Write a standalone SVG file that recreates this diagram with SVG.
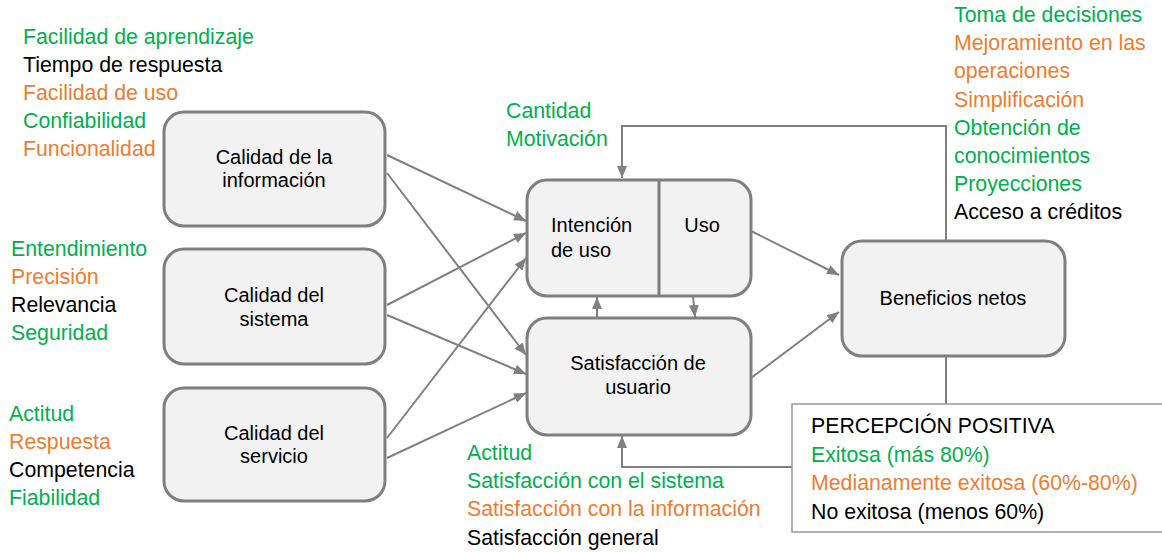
<svg xmlns="http://www.w3.org/2000/svg" width="1162" height="552" viewBox="0 0 1162 552">
<style>
.box{fill:#f2f2f2;stroke:#7f7f7f;stroke-width:3}
.bt{font-family:"Liberation Sans",Arial,sans-serif;font-size:20px;fill:#000}
.lt{font-family:"Liberation Sans",Arial,sans-serif;font-size:21.3px}
.g{fill:#00b050}.o{fill:#ed7d31}.k{fill:#000}
.c{fill:none;stroke:#808080;stroke-width:2}
.pb{fill:#fff;stroke:#999;stroke-width:1.5}
</style>
<defs>
<marker id="ar" viewBox="0 0 12 10" refX="12" refY="5" markerWidth="12" markerHeight="10" markerUnits="userSpaceOnUse" orient="auto">
<path d="M0,0 L12,5 L0,10 z" fill="#808080"/>
</marker>
</defs>
<rect width="1162" height="552" fill="#fff"/>

<g id="connectors">
<line class="c" x1="387" y1="155" x2="526" y2="221" marker-end="url(#ar)"/>
<line class="c" x1="387" y1="173" x2="526" y2="355" marker-end="url(#ar)"/>
<line class="c" x1="387" y1="305" x2="526" y2="233" marker-end="url(#ar)"/>
<line class="c" x1="387" y1="315" x2="526" y2="374" marker-end="url(#ar)"/>
<line class="c" x1="387" y1="438" x2="526" y2="258" marker-end="url(#ar)"/>
<line class="c" x1="387" y1="458" x2="526" y2="393" marker-end="url(#ar)"/>
<line class="c" x1="597" y1="318" x2="597" y2="297" marker-end="url(#ar)"/>
<line class="c" x1="693" y1="296" x2="695" y2="317" marker-end="url(#ar)"/>
<line class="c" x1="751" y1="231" x2="839" y2="275" marker-end="url(#ar)"/>
<line class="c" x1="751" y1="378" x2="839" y2="312" marker-end="url(#ar)"/>
<path class="c" d="M946,241 V126 H622 V178" marker-end="url(#ar)"/>
<line class="c" x1="946" y1="357" x2="946" y2="404"/>
<path class="c" d="M792,467 H622 V436" marker-end="url(#ar)"/>
</g>

<g id="n-info">
<rect class="box" x="164" y="112" width="221" height="114" rx="20"/>
<text class="bt" x="274" y="164" text-anchor="middle">Calidad de la</text>
<text class="bt" x="274" y="187" text-anchor="middle">información</text>
</g>
<g id="n-sistema">
<rect class="box" x="164" y="249" width="221" height="115" rx="20"/>
<text class="bt" x="274" y="302" text-anchor="middle">Calidad del</text>
<text class="bt" x="274" y="326" text-anchor="middle">sistema</text>
</g>
<g id="n-servicio">
<rect class="box" x="164" y="388" width="221" height="113" rx="20"/>
<text class="bt" x="274" y="440" text-anchor="middle">Calidad del</text>
<text class="bt" x="274" y="463" text-anchor="middle">servicio</text>
</g>
<g id="n-intencion-uso">
<rect class="box" x="527" y="180" width="224" height="116" rx="20"/>
<line x1="659" y1="180" x2="659" y2="296" stroke="#7f7f7f" stroke-width="3"/>
<text class="bt" x="551" y="232">Intención</text>
<text class="bt" x="551" y="257">de uso</text>
<text class="bt" x="702" y="232" text-anchor="middle">Uso</text>
</g>
<g id="n-satisfaccion">
<rect class="box" x="527" y="318" width="224" height="117" rx="20"/>
<text class="bt" x="638" y="370" text-anchor="middle">Satisfacción de</text>
<text class="bt" x="638" y="394" text-anchor="middle">usuario</text>
</g>
<g id="n-beneficios">
<rect class="box" x="842" y="241" width="223" height="115" rx="20"/>
<text class="bt" x="953" y="305" text-anchor="middle">Beneficios netos</text>
</g>
<g id="n-percepcion">
<rect class="pb" x="792" y="404" width="380" height="128"/>
<text class="lt k" x="811" y="433">PERCEPCIÓN POSITIVA</text>
<text class="lt g" x="811" y="462">Exitosa (más 80%)</text>
<text class="lt o" x="811" y="490">Medianamente exitosa (60%-80%)</text>
<text class="lt k" x="811" y="519">No exitosa (menos 60%)</text>
</g>

<g id="labels-info">
<text class="lt g" x="23" y="44">Facilidad de aprendizaje</text>
<text class="lt k" x="23" y="72">Tiempo de respuesta</text>
<text class="lt o" x="23" y="100">Facilidad de uso</text>
<text class="lt g" x="23" y="128">Confiabilidad</text>
<text class="lt o" x="23" y="156">Funcionalidad</text>
</g>
<g id="labels-sistema">
<text class="lt g" x="11" y="256">Entendimiento</text>
<text class="lt o" x="11" y="284">Precisión</text>
<text class="lt k" x="11" y="312">Relevancia</text>
<text class="lt g" x="11" y="340">Seguridad</text>
</g>
<g id="labels-servicio">
<text class="lt g" x="9" y="421">Actitud</text>
<text class="lt o" x="9" y="449">Respuesta</text>
<text class="lt k" x="9" y="477">Competencia</text>
<text class="lt g" x="9" y="505">Fiabilidad</text>
</g>
<g id="labels-intencion">
<text class="lt g" x="506" y="118">Cantidad</text>
<text class="lt g" x="506" y="146">Motivación</text>
</g>
<g id="labels-satisfaccion">
<text class="lt g" x="467" y="460">Actitud</text>
<text class="lt g" x="467" y="488">Satisfacción con el sistema</text>
<text class="lt o" x="467" y="516">Satisfacción con la información</text>
<text class="lt k" x="467" y="545">Satisfacción general</text>
</g>
<g id="labels-beneficios">
<text class="lt g" x="954" y="22">Toma de decisiones</text>
<text class="lt o" x="954" y="50">Mejoramiento en las</text>
<text class="lt o" x="954" y="78">operaciones</text>
<text class="lt o" x="954" y="107">Simplificación</text>
<text class="lt g" x="954" y="135">Obtención de</text>
<text class="lt g" x="954" y="163">conocimientos</text>
<text class="lt g" x="954" y="191">Proyecciones</text>
<text class="lt k" x="954" y="219">Acceso a créditos</text>
</g>
</svg>
